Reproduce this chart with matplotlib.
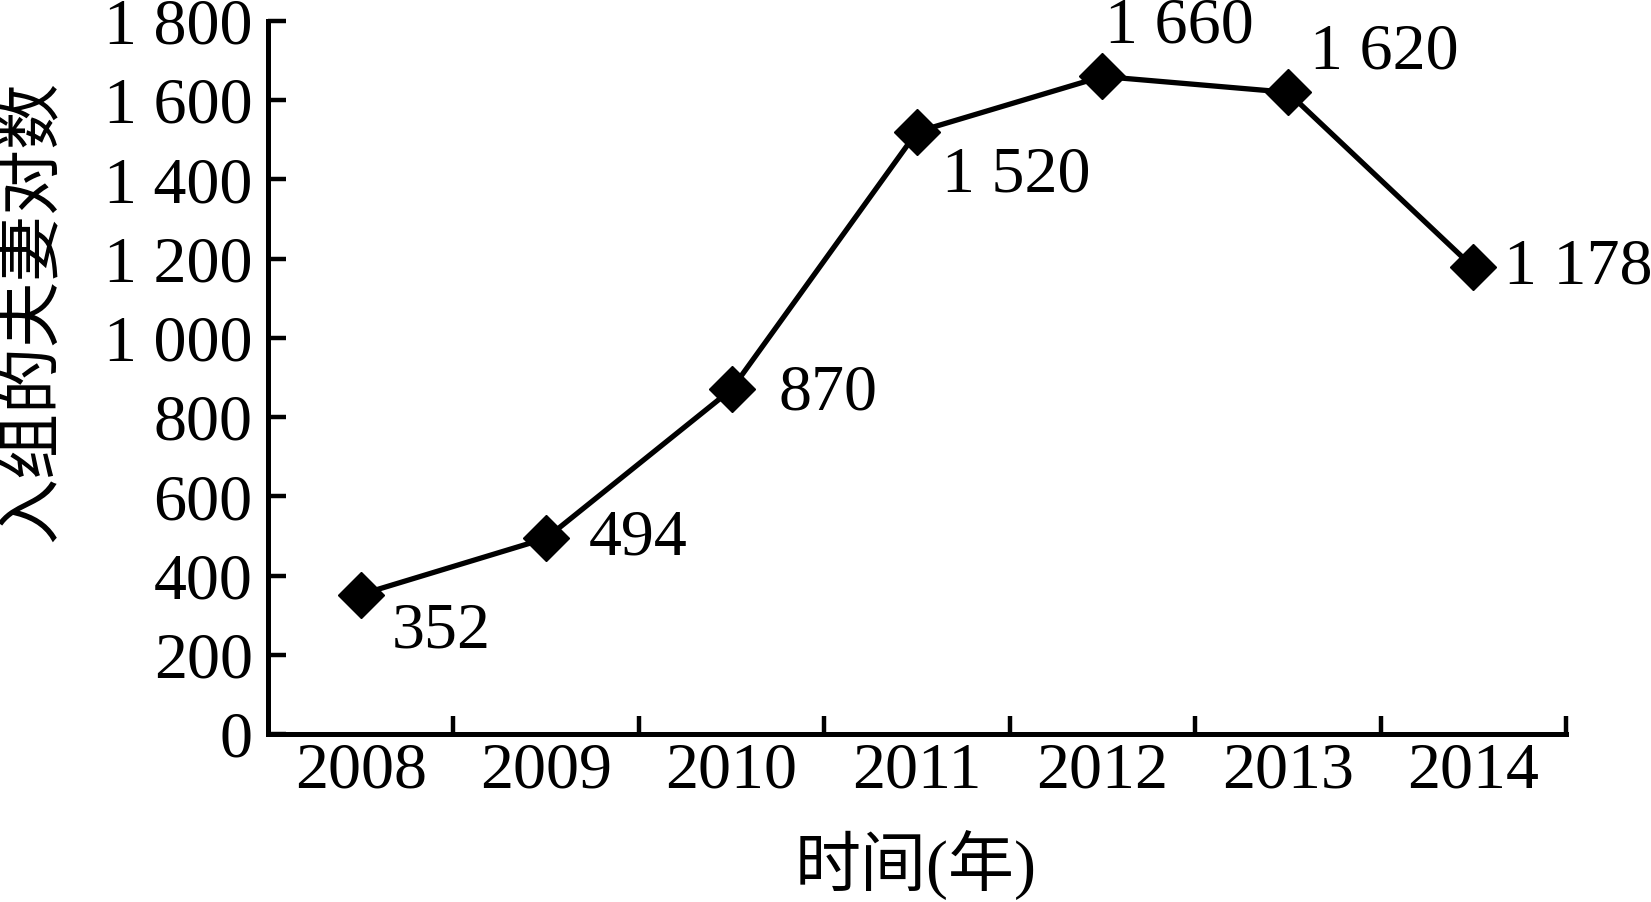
import matplotlib
matplotlib.use("Agg")
import matplotlib.pyplot as plt
from matplotlib.ticker import FuncFormatter

# data
years = ["2008", "2009", "2010", "2011", "2012", "2013", "2014"]
couples = [352, 494, 870, 1520, 1660, 1620, 1178]
# label offsets (pixels) relative to each marker
label_dx = [31, 43, 47, 25, 3, 22, 31]
label_dy = [-37, 0, -4, -44, 50, 40, 0]
y_ticks = list(range(0, 1801, 200))

FONT = ["Liberation Serif", "Noto Sans CJK SC", "DejaVu Sans"]
plt.rcParams["font.family"] = FONT
FS = 47.5


def space_thousands(v, pos=None):
    s = f"{int(v):,}"
    return s.replace(",", " ")


fig = plt.figure(figsize=(16.51, 9.02), dpi=100)
ax = fig.add_axes([0.1623, 0.1863, 0.7862, 0.7904])

x = list(range(len(years)))
ax.plot(x, couples, color="black", lw=3.8, marker="D", ms=23,
        mfc="black", mec="black", mew=1, zorder=3)

for xi, v, dx, dy in zip(x, couples, label_dx, label_dy):
    ax.annotate(space_thousands(v), (xi, v), xytext=(dx, dy),
                textcoords="offset pixels", ha="left", va="center",
                fontsize=FS, annotation_clip=False)

ax.set_xlim(-0.5, len(years) - 0.5)
ax.set_ylim(0, 1800)
ax.set_yticks(y_ticks)
ax.yaxis.set_major_formatter(FuncFormatter(space_thousands))
ax.set_xticks(x)
ax.set_xticklabels(years)
ax.set_xticks([i + 0.5 for i in x], minor=True)

ax.tick_params(axis="x", which="major", length=0, pad=6, labelsize=FS)
ax.tick_params(axis="x", which="minor", direction="in", length=13, width=3.2)
ax.tick_params(axis="y", direction="in", length=13, width=3.2, pad=11,
               labelsize=FS)

for side in ("top", "right"):
    ax.spines[side].set_visible(False)
for side in ("left", "bottom"):
    ax.spines[side].set_linewidth(3.6)

fig.text(916 / 1651, 1 - 866 / 902, "时间(年)", ha="center", va="center",
         fontsize=FS)
fig.text(34 / 1651, 1 - 311 / 902, "入组的夫妻对数", ha="center",
         va="center", rotation=90, fontsize=FS)

fig.savefig("out.png", dpi=100, facecolor="white")
